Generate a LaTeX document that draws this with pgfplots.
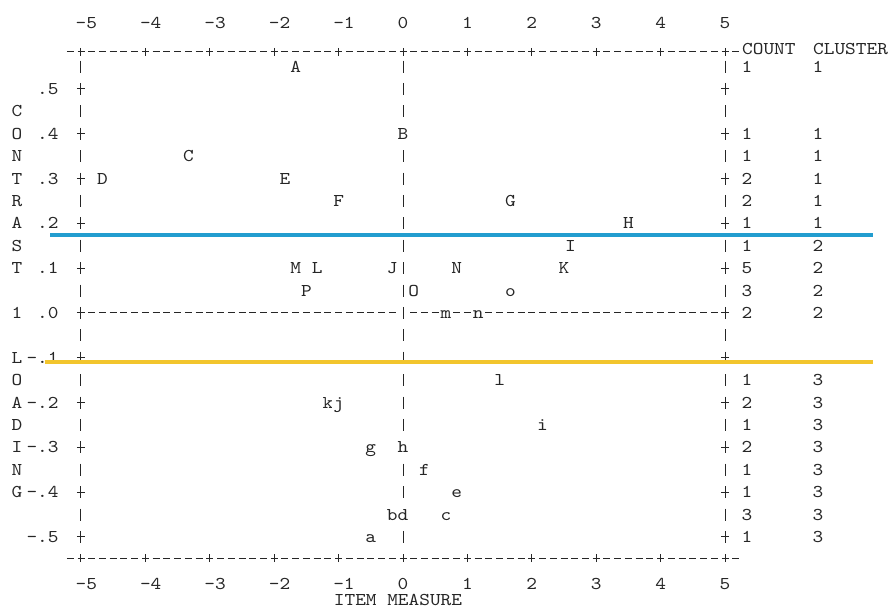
\documentclass[border=0pt]{standalone}
\usepackage{fontspec}
\usepackage{pgfplots}
\usepackage{pgfplotstable}
\pgfplotsset{compat=1.18}
\newfontfamily\monof[FakeStretch=1.13]{lmmono10-regular.otf}
\definecolor{txt}{gray}{0.15}
\definecolor{cblue}{RGB}{34,157,207}
\definecolor{cyell}{RGB}{242,197,45}
\newcommand{\mono}{\monof\fontsize{9}{11}\selectfont}

\pgfplotstableread{
x y lab
-1.667 0.55 A
0 0.40 B
-3.333 0.35 C
-4.667 0.30 D
-1.833 0.30 E
-1.0 0.25 F
1.667 0.25 G
3.5 0.20 H
2.6 0.15 I
-1.667 0.10 M
-1.333 0.10 L
-0.167 0.10 J
0.833 0.10 N
2.5 0.10 K
-1.5 0.05 P
0.167 0.05 O
1.667 0.05 o
0.667 0.0 m
1.167 0.0 n
1.5 -0.15 l
-1.167 -0.20 k
-1.0 -0.20 j
2.167 -0.25 i
-0.5 -0.30 g
0 -0.30 h
0.333 -0.35 f
0.833 -0.40 e
-0.167 -0.45 b
0 -0.45 d
0.667 -0.45 c
-0.5 -0.50 a
}\letters

\pgfplotstableread{
y count cluster
0.55 1 1
0.40 1 1
0.35 1 1
0.30 2 1
0.25 2 1
0.20 1 1
0.15 1 2
0.10 5 2
0.05 3 2
0.00 2 2
-0.15 1 3
-0.20 2 3
-0.25 1 3
-0.30 2 3
-0.35 1 3
-0.40 1 3
-0.45 3 3
-0.50 1 3
}\counts

\tikzset{
  hdash/.style={txt, line width=0.5pt, dash pattern=on 3.5pt off 1.867pt},
  vdash/.style={txt, line width=0.5pt, dash pattern=on 6pt off 5.2pt},
  lbl/.style={font=\mono, text=txt, anchor=base, yshift=-2.75pt, inner sep=0pt},
}

\begin{document}
\begin{tikzpicture}
\useasboundingbox (-40.5pt,-26pt) rectangle (403.5pt,279pt);
\begin{axis}[
  at={(0pt,0pt)}, anchor=south west,
  scale only axis, width=322pt, height=253.12pt,
  xmin=-5, xmax=5, ymin=-0.547, ymax=0.583,
  clip=false,
  axis line style={draw=none},
  tick align=center, major tick length=4pt,
  tick style={txt, line width=0.5pt},
  xtick={-5,-4,-3,-2,-1,0,1,2,3,4,5},
  xticklabels={{\phantom{0}-5},{\phantom{0}-4},{\phantom{0}-3},{\phantom{0}-2},{\phantom{0}-1},0,1,2,3,4,5},
  ytick={-0.5,-0.4,-0.3,-0.2,-0.1,0,0.1,0.2,0.3,0.4,0.5},
  yticklabels={-.5,-.4,-.3,-.2,-.1,.0,.1,.2,.3,.4,.5},
  tick label style={font=\mono, text=txt, inner sep=0pt},
  xticklabel style={anchor=base, yshift=-13.75pt},
  yticklabel style={anchor=east, xshift=-9pt},
]
% ASCII frame
\addplot[hdash] coordinates {(-5.2210,0.583) (5.2210,0.583)};
\addplot[hdash] coordinates {(-5.2210,-0.547) (5.2210,-0.547)};
\addplot[hdash] coordinates {(-5.0543,0) (-0.1124,0)};
\addplot[hdash] coordinates {(0.1124,0) (5.0543,0)};
\addplot[vdash] coordinates {(-5,0.5634) (-5,-0.5134)};
\addplot[vdash] coordinates {(0,0.5634) (0,-0.5134)};
\addplot[vdash] coordinates {(5,0.5634) (5,-0.5134)};
% item letters
\addplot[only marks, mark=*, mark size=0pt, mark options={draw=none,fill=none},
  point meta=explicit symbolic, nodes near coords,
  every node near coord/.append style={font=\mono, text=txt, anchor=base, yshift=-2.75pt, fill=white, inner sep=0.4pt}]
  table[x=x, y=y, meta=lab] {\letters};
% count column
\addplot[only marks, mark=*, mark size=0pt, mark options={draw=none,fill=none},
  point meta=explicit symbolic, nodes near coords,
  every node near coord/.append style={font=\mono, text=txt, anchor=base, yshift=-2.75pt, inner sep=0pt}]
  table[x expr=5.342, y=y, meta=count] {\counts};
% cluster column
\addplot[only marks, mark=*, mark size=0pt, mark options={draw=none,fill=none},
  point meta=explicit symbolic, nodes near coords,
  every node near coord/.append style={font=\mono, text=txt, anchor=base, yshift=-2.75pt, inner sep=0pt}]
  table[x expr=6.444, y=y, meta=cluster] {\counts};
% headers and vertical title
\node[lbl, anchor=base west, yshift=1.5pt] at (axis cs:5.26,0.583) {COUNT};
\node[lbl, anchor=base west, yshift=1.5pt] at (axis cs:6.363,0.583) {CLUSTER};
\node[lbl] at (axis cs:-5.994,0.45) {C};
\node[lbl] at (axis cs:-5.994,0.40) {O};
\node[lbl] at (axis cs:-5.994,0.35) {N};
\node[lbl] at (axis cs:-5.994,0.30) {T};
\node[lbl] at (axis cs:-5.994,0.25) {R};
\node[lbl] at (axis cs:-5.994,0.20) {A};
\node[lbl] at (axis cs:-5.994,0.15) {S};
\node[lbl] at (axis cs:-5.994,0.10) {T};
\node[lbl] at (axis cs:-5.994,0.00) {1};
\node[lbl] at (axis cs:-5.994,-0.10) {L};
\node[lbl] at (axis cs:-5.994,-0.15) {O};
\node[lbl] at (axis cs:-5.994,-0.20) {A};
\node[lbl] at (axis cs:-5.994,-0.25) {D};
\node[lbl] at (axis cs:-5.994,-0.30) {I};
\node[lbl] at (axis cs:-5.994,-0.35) {N};
\node[lbl] at (axis cs:-5.994,-0.40) {G};
\node[lbl, yshift=-21pt] at (axis cs:-0.078,-0.547) {ITEM MEASURE};
% highlight lines
\addplot[cblue, line width=2pt] coordinates {(-5.48,0.174) (7.30,0.174)};
\addplot[cyell, line width=2.2pt] coordinates {(-5.56,-0.109) (7.30,-0.109)};
\end{axis}
\begin{axis}[
  at={(0pt,0pt)}, anchor=south west,
  scale only axis, width=322pt, height=253.12pt,
  xmin=-5, xmax=5, ymin=-0.547, ymax=0.583,
  axis line style={draw=none}, major tick length=0pt,
  xtick={-5,-4,-3,-2,-1,0,1,2,3,4,5},
  xticklabels={{\phantom{0}-5},{\phantom{0}-4},{\phantom{0}-3},{\phantom{0}-2},{\phantom{0}-1},0,1,2,3,4,5},
  xticklabel pos=upper, ytick=\empty,
  tick label style={font=\mono, text=txt, inner sep=0pt},
  xticklabel style={anchor=base, yshift=11.7pt},
]
\end{axis}
\end{tikzpicture}
\end{document}
